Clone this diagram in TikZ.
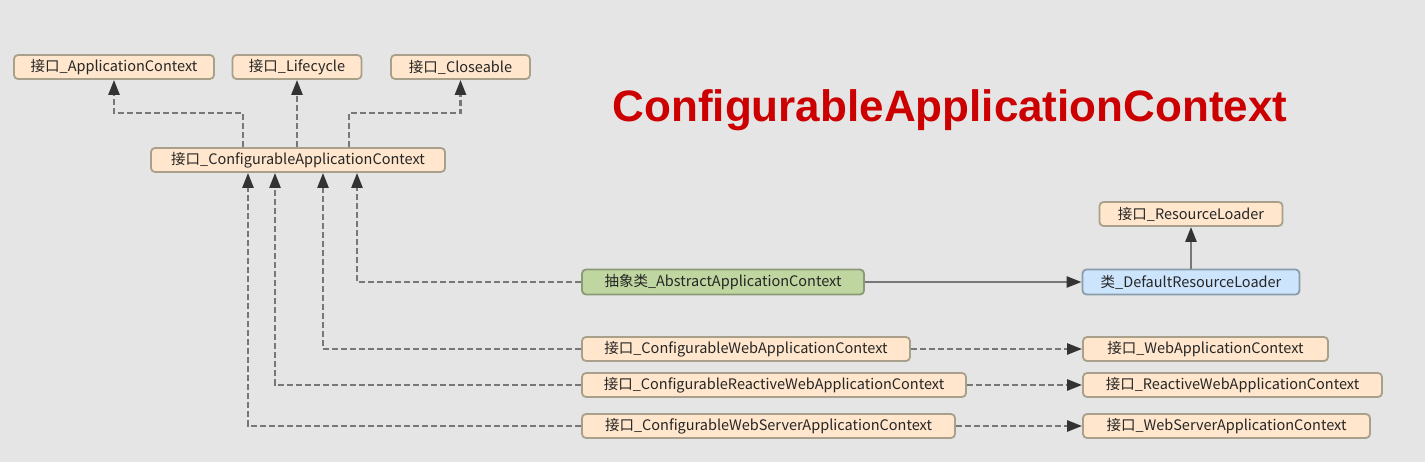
\documentclass[tikz,border=0pt]{standalone}
\usepackage{fontspec}
\newfontfamily\cjk{Noto Sans CJK SC}
\newfontfamily\titlefont{Liberation Sans}
\usetikzlibrary{arrows.meta}
\definecolor{bg}{HTML}{E5E5E5}
\definecolor{peach}{HTML}{FFE6CC}
\definecolor{peachline}{HTML}{A8A08A}
\definecolor{greenfill}{HTML}{BFD6A0}
\definecolor{greenline}{HTML}{8A9A76}
\definecolor{bluefill}{HTML}{CCE4FC}
\definecolor{blueline}{HTML}{8A9CAA}
\definecolor{linec}{HTML}{777777}
\definecolor{tipc}{HTML}{333333}
\definecolor{titlered}{HTML}{CC0000}
\tikzset{
  box/.style={draw=peachline, fill=peach, line width=1.8pt, rounded corners=4pt,
    minimum height=24pt, inner sep=0pt, text=black!85, font=\cjk\fontsize{14.5}{16}\selectfont},
  greenbox/.style={box, fill=greenfill, draw=greenline},
  bluebox/.style={box, fill=bluefill, draw=blueline},
  dep/.style={draw=linec, line width=2.4pt, dash pattern=on 6pt off 3pt,
    -{Triangle[length=15pt,width=11pt,color=tipc]}},
  assoc/.style={draw=linec, line width=2.6pt,
    -{Triangle[length=15pt,width=11pt,color=tipc]}},
}
\begin{document}
\begin{tikzpicture}[x=1pt,y=-1pt]
\fill[bg] (0,0) rectangle (1425,462);
\useasboundingbox (0,0) rectangle (1425,462);

\node[box, minimum width=200pt] (ac) at (114,67) {接口\_ApplicationContext};
\node[box, minimum width=129pt] (lc) at (297,67) {接口\_Lifecycle};
\node[box, minimum width=139pt] (cl) at (460.5,67) {接口\_Closeable};
\node[box, minimum width=294pt] (cac) at (298,160) {接口\_ConfigurableApplicationContext};

\node[text=titlered, font=\titlefont\bfseries\fontsize{44}{50}\selectfont] (title) at (950,110) {ConfigurableApplicationContext};

\node[box, minimum width=183pt] (rl) at (1191,214) {接口\_ResourceLoader};
\node[greenbox, minimum width=282pt, minimum height=25pt] (aac) at (723,282) {抽象类\_AbstractApplicationContext};
\node[bluebox, minimum width=217pt, minimum height=25pt] (drl) at (1191,282) {类\_DefaultResourceLoader};

\node[box, minimum width=328pt] (cwac) at (746,349) {接口\_ConfigurableWebApplicationContext};
\node[box, minimum width=245pt] (wac) at (1205.5,349) {接口\_WebApplicationContext};
\node[box, minimum width=384pt] (crwac) at (774,385) {接口\_ConfigurableReactiveWebApplicationContext};
\node[box, minimum width=299pt] (rwac) at (1232.5,385) {接口\_ReactiveWebApplicationContext};
\node[box, minimum width=373pt] (cwsac) at (768.5,426) {接口\_ConfigurableWebServerApplicationContext};
\node[box, minimum width=287pt] (wsac) at (1226.5,426) {接口\_WebServerApplicationContext};

% top inheritance
\draw[dep] (cac.north -| 243,0) -- (243,113) -| (ac.south);
\draw[dep] (cac.north -| lc.south) -- (lc.south);
\draw[dep] (cac.north -| 349,0) -- (349,113) -| (cl.south);

% into ConfigurableApplicationContext
\draw[dep] (aac.west) -| (cac.south -| 357,0);
\draw[dep] (cwac.west) -| (cac.south -| 323,0);
\draw[dep] (crwac.west) -| (cac.south -| 275,0);
\draw[dep] (cwsac.west) -| (cac.south -| 248,0);

% right side
\draw[assoc] (aac.east) -- (drl.west);
\draw[assoc] (drl.north) -- (rl.south);
\draw[dep] (cwac.east) -- (wac.west);
\draw[dep] (crwac.east) -- (rwac.west);
\draw[dep] (cwsac.east) -- (wsac.west);
\end{tikzpicture}
\end{document}
